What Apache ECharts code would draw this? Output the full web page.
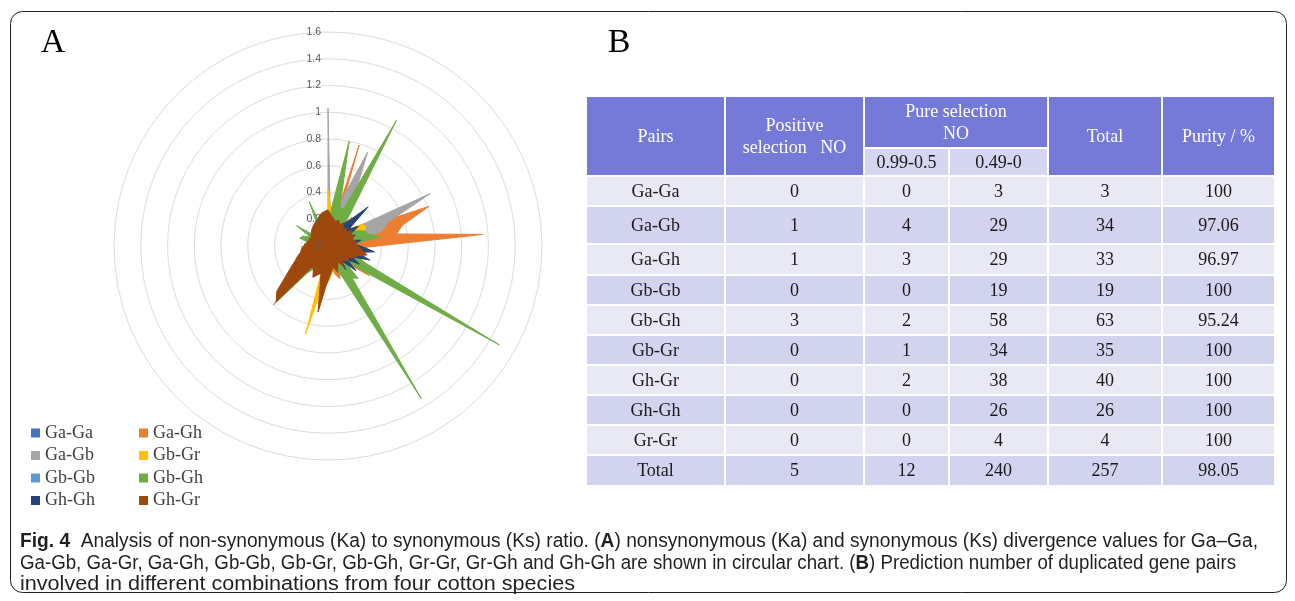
<!DOCTYPE html>
<html>
<head>
<meta charset="utf-8">
<script src="https://cdn.jsdelivr.net/npm/echarts@6/dist/echarts.min.js"></script>
<style>
  html, body { margin: 0; padding: 0; background: #ffffff; }
  #chart { width: 1295px; height: 601px; }
</style>
</head>
<body>
<div id="chart"></div>
<script>
// ---- Ka/Ks values per duplicated gene pair group (radar categories run clockwise from the top) ----
const GA_GA = [0.12, 0.08, 0.1];
const GA_GH = [0.1, 0.15, 0.12, 0.79, 0.15, 0.12, 0.2, 0.28, 0.12, 0.18, 0.2, 0.3, 0.81, 0.58, 0.52, 1.16, 0.3,
  0.22, 0.28, 0.24, 0.3, 0.22, 0.38, 0.2, 0.15, 0.18, 0.15, 0.2, 0.26, 0.22, 0.15, 0.12, 0.1];
const GA_GB = [1.03, 0.18, 0.1, 0.38, 0.76, 0.4, 0.12, 0.1, 0.15, 0.12, 0.28, 0.86, 0.48, 0.42, 0.22, 0.12, 0.1,
  0.15, 0.12, 0.1, 0.14, 0.1, 0.12, 0.15, 0.1, 0.12, 0.1, 0.14, 0.12, 0.1, 0.15, 0.25, 0.12, 0.1];
const GB_GR = [0.42, 0.25, 0.15, 0.12, 0.2, 0.15, 0.12, 0.1, 0.15, 0.2, 0.3, 0.32, 0.28, 0.18, 0.12, 0.1, 0.12,
  0.15, 0.1, 0.12, 0.1, 0.15, 0.12, 0.1, 0.14, 0.12, 0.1, 0.15, 0.18, 0.15, 0.2, 0.25, 0.28, 0.32, 0.68];
const GB_GB = [0.1, 0.15, 0.22, 0.3, 0.15, 0.12, 0.1, 0.15, 0.12, 0.2, 0.27, 0.15, 0.12, 0.1, 0.12, 0.1, 0.15, 0.12, 0.1];
const GB_GH = [0.15, 0.3, 0.80, 0.3, 0.3, 1.07, 0.3, 0.15, 0.18, 0.15, 0.2, 0.25, 0.3, 0.32, 0.4, 0.18, 0.15,
  0.2, 0.15, 0.22, 0.3, 1.48, 0.3, 0.15, 0.33, 0.3, 1.34, 0.28, 0.18, 0.12, 0.15, 0.2, 0.15, 0.12, 0.15, 0.2,
  0.15, 0.2, 0.25, 0.6, 0.3, 0.2, 0.15, 0.12, 0.14, 0.12, 0.15, 0.12, 0.18, 0.15, 0.22, 0.2, 0.15, 0.28, 0.12,
  0.1, 0.15, 0.12, 0.15, 0.36, 0.12, 0.1, 0.12];
const GH_GH = [0.1, 0.22, 0.15, 0.12, 0.18, 0.15, 0.2, 0.25, 0.42, 0.2, 0.27, 0.18, 0.22, 0.15, 0.25, 0.2, 0.26,
  0.35, 0.22, 0.33, 0.2, 0.27, 0.18, 0.28, 0.15, 0.22];
const GH_GR = [0.27, 0.23, 0.21, 0.19, 0.21, 0.18, 0.21, 0.17, 0.19, 0.17, 0.21, 0.18, 0.21, 0.19, 0.21, 0.21, 0.23,
  0.26, 0.3, 0.23, 0.21, 0.17, 0.19, 0.16, 0.15, 0.19, 0.14, 0.17, 0.21, 0.16, 0.19, 0.23, 0.3, 0.5, 0.21, 0.23,
  0.26, 0.21, 0.19, 0.57, 0.51, 0.39, 0.32, 0.27, 0.24, 0.21, 0.2, 0.19, 0.17, 0.16, 0.15, 0.15, 0.14, 0.15,
  0.16, 0.17, 0.18, 0.19, 0.2, 0.21, 0.23, 0.25, 0.26];

const PAIR_NAMES = ['Ga-Ga', 'Ga-Gh', 'Ga-Gb', 'Gb-Gr', 'Gb-Gb', 'Gb-Gh', 'Gh-Gh', 'Gh-Gr'];
const PAIR_VALUES = [GA_GA, GA_GH, GA_GB, GB_GR, GB_GB, GB_GH, GH_GH, GH_GR];
const PAIR_COLORS = ['#4472C4', '#ED7D31', '#A5A5A5', '#FFC000', '#5B9BD5', '#70AD47', '#264478', '#9E480E'];
const LEGEND_COL1 = ['Ga-Ga', 'Ga-Gb', 'Gb-Gb', 'Gh-Gh'];
const LEGEND_COL2 = ['Ga-Gh', 'Gb-Gr', 'Gb-Gh', 'Gh-Gr'];
const RING_MAX = 1.6;
const RING_STEP = 0.2;

// ---- Table B ----
const TABLE_PAIRS = ['Ga-Ga', 'Ga-Gb', 'Ga-Gh', 'Gb-Gb', 'Gb-Gh', 'Gb-Gr', 'Gh-Gr', 'Gh-Gh', 'Gr-Gr', 'Total'];
const POSITIVE_NO = ['0', '1', '1', '0', '3', '0', '0', '0', '0', '5'];
const PURE_HIGH = ['0', '4', '3', '0', '2', '1', '2', '0', '0', '12'];
const PURE_LOW = ['3', '29', '29', '19', '58', '34', '38', '26', '4', '240'];
const TOTALS = ['3', '34', '33', '19', '63', '35', '40', '26', '4', '257'];
const PURITY = ['100', '97.06', '96.97', '100', '95.24', '100', '100', '100', '100', '98.05'];
const HEADERS = ['Pairs', 'Positive\nselection   NO', 'Pure selection\nNO', 'Total', 'Purity / %'];
const SUB_HEADERS = ['0.99-0.5', '0.49-0'];

const CAPTION_1 = ['Fig. 4', '  Analysis of non-synonymous (Ka) to synonymous (Ks) ratio. (', 'A',
  ') nonsynonymous (Ka) and synonymous (Ks) divergence values for Ga\u2013Ga,'];
const CAPTION_2 = ['', 'Ga-Gb, Ga-Gr, Ga-Gh, Gb-Gb, Gb-Gr, Gb-Gh, Gr-Gr, Gr-Gh and Gh-Gh are shown in circular chart. (', 'B',
  ') Prediction number of duplicated gene pairs'];
const CAPTION_3 = ['', 'involved in different combinations from four cotton species', '', ''];

// ---- layout ----
const CENTER = [328, 246];
const RADIUS = 214;
const SERIF = '"Liberation Serif", "Times New Roman", serif';
const SANS = '"Liberation Sans", Arial, sans-serif';

const N = Math.max.apply(null, PAIR_VALUES.map(v => v.length));

// ECharts radar steps counter-clockwise; reorder so categories read clockwise
function radarOrder(vals) {
  const full = [];
  for (let i = 0; i < N; i++) full.push(i < vals.length ? vals[i] : 0);
  return full.map((_, i) => full[(N - i) % N]);
}

const indicators = [];
for (let i = 0; i < N; i++) indicators.push({ name: '', min: 0, max: RING_MAX });

const radarSeries = PAIR_NAMES.map((name, k) => ({
  type: 'radar',
  name: name,
  radarIndex: 0,
  symbol: 'none',
  silent: true,
  color: PAIR_COLORS[k],
  itemStyle: { color: PAIR_COLORS[k] },
  lineStyle: { width: 1, color: PAIR_COLORS[k], opacity: 1, join: 'miter' },
  areaStyle: { color: PAIR_COLORS[k], opacity: 1 },
  data: [{ name: name, value: radarOrder(PAIR_VALUES[k]) }]
}));

// ---- table graphics ----
const COL_X = [586, 725, 864, 949, 1048, 1162, 1275];
const HEAD_TOP = 96, HEAD_SPLIT = 148, HEAD_BOTTOM = 176;
const ROW_Y = [176, 206, 244, 275, 305, 335, 365, 395, 425, 455, 486];
const HEAD_COLOR = '#7579D7';
const SUB_COLOR = '#D5D6F1';
const ROW_LIGHT = '#E9E9F6';
const ROW_DARK = '#D2D3EF';
const GAP = 1;

const graphics = [];
function cell(x0, y0, x1, y1, fill, text, color) {
  graphics.push({
    type: 'rect', silent: true,
    shape: { x: x0 + GAP, y: y0 + GAP, width: x1 - x0 - 2 * GAP, height: y1 - y0 - 2 * GAP },
    style: { fill: fill }
  });
  if (text) {
    graphics.push({
      type: 'text', silent: true, x: (x0 + x1) / 2, y: (y0 + y1) / 2 + 1,
      style: { text: text, fill: color, fontSize: 18, fontFamily: SERIF, align: 'center',
        verticalAlign: 'middle', lineHeight: 22 }
    });
  }
}
// header
cell(COL_X[0], HEAD_TOP, COL_X[1], HEAD_BOTTOM, HEAD_COLOR, HEADERS[0], '#ffffff');
cell(COL_X[1], HEAD_TOP, COL_X[2], HEAD_BOTTOM, HEAD_COLOR, HEADERS[1], '#ffffff');
cell(COL_X[2], HEAD_TOP, COL_X[4], HEAD_SPLIT, HEAD_COLOR, HEADERS[2], '#ffffff');
cell(COL_X[4], HEAD_TOP, COL_X[5], HEAD_BOTTOM, HEAD_COLOR, HEADERS[3], '#ffffff');
cell(COL_X[5], HEAD_TOP, COL_X[6], HEAD_BOTTOM, HEAD_COLOR, HEADERS[4], '#ffffff');
cell(COL_X[2], HEAD_SPLIT, COL_X[3], HEAD_BOTTOM, SUB_COLOR, SUB_HEADERS[0], '#1a1a1a');
cell(COL_X[3], HEAD_SPLIT, COL_X[4], HEAD_BOTTOM, SUB_COLOR, SUB_HEADERS[1], '#1a1a1a');
// body
const COLUMNS = [TABLE_PAIRS, POSITIVE_NO, PURE_HIGH, PURE_LOW, TOTALS, PURITY];
for (let r = 0; r < TABLE_PAIRS.length; r++) {
  const fill = r % 2 === 0 ? ROW_LIGHT : ROW_DARK;
  for (let c = 0; c < COLUMNS.length; c++) {
    cell(COL_X[c], ROW_Y[r], COL_X[c + 1], ROW_Y[r + 1], fill, COLUMNS[c][r], '#1a1a1a');
  }
}

// panel letters
graphics.push({ type: 'text', silent: true, x: 53, y: 43,
  style: { text: 'A', fontSize: 34, fontFamily: SERIF, fill: '#000', align: 'center', verticalAlign: 'middle' } });
graphics.push({ type: 'text', silent: true, x: 619, y: 43,
  style: { text: 'B', fontSize: 34, fontFamily: SERIF, fill: '#000', align: 'center', verticalAlign: 'middle' } });

// caption: condensed sans rendered by horizontal scaling
const CAP_SIZE = 20;
const ctx = document.createElement('canvas').getContext('2d');
function textW(bold, s) {
  ctx.font = (bold ? 'bold ' : '') + CAP_SIZE + 'px ' + SANS;
  return ctx.measureText(s).width;
}
function capWidth(parts) {
  return textW(true, parts[0]) + textW(false, parts[1]) + textW(true, parts[2]) + textW(false, parts[3]);
}
const CAP_LEFT = 20;
const scale1 = (1258 - CAP_LEFT) / capWidth(CAPTION_1);
const scale2 = (1236 - CAP_LEFT) / capWidth(CAPTION_2);
const scale3 = (575 - CAP_LEFT) / capWidth(CAPTION_3);
function capRich(parts) {
  let s = '';
  if (parts[0]) s += '{b|' + parts[0] + '}';
  if (parts[1]) s += '{r|' + parts[1] + '}';
  if (parts[2]) s += '{b|' + parts[2] + '}';
  if (parts[3]) s += '{r|' + parts[3] + '}';
  return s;
}
[[CAPTION_1, 541, scale1], [CAPTION_2, 563, scale2], [CAPTION_3, 584, scale3]].forEach(([parts, y, sx]) => {
  graphics.push({
    type: 'text', silent: true, x: CAP_LEFT, y: y, scaleX: sx,
    style: {
      text: capRich(parts), fontSize: CAP_SIZE, fontFamily: SANS, fill: '#231f20',
      align: 'left', verticalAlign: 'middle',
      rich: {
        b: { fontWeight: 'bold', fontSize: CAP_SIZE, fontFamily: SANS, fill: '#231f20' },
        r: { fontSize: CAP_SIZE, fontFamily: SANS, fill: '#231f20' }
      }
    }
  });
});

// frame
graphics.push({ type: 'rect', silent: true, z: -1,
  shape: { x: 10.5, y: 11.5, width: 1276, height: 581, r: 12 },
  style: { fill: 'none', stroke: '#231f20', lineWidth: 1 } });

const legendBase = {
  orient: 'vertical', selectedMode: false, padding: 0, itemGap: 4.5,
  itemWidth: 9, itemHeight: 9, icon: 'rect',
  textStyle: { fontFamily: SERIF, fontSize: 18, color: '#404040', padding: [0, 0, 0, 0] }
};

const option = {
  animation: false,
  backgroundColor: '#ffffff',
  polar: [
    { center: CENTER, radius: [0, RADIUS] },
    { center: CENTER, radius: [0, RADIUS] }
  ],
  angleAxis: [
    { polarIndex: 0, type: 'value', min: 0, max: 360, show: false },
    { polarIndex: 1, type: 'value', min: 0, max: 360, show: false }
  ],
  radiusAxis: [
    { polarIndex: 0, min: 0, max: RING_MAX, interval: RING_STEP, z: 0,
      axisLine: { show: false }, axisTick: { show: false }, axisLabel: { show: false },
      splitLine: { show: true, lineStyle: { color: '#dcdcdc', width: 1 } } },
    { polarIndex: 1, min: 0, max: RING_MAX, interval: RING_STEP, z: 20,
      axisLine: { show: false }, axisTick: { show: false }, splitLine: { show: false },
      axisLabel: { show: true, color: '#595959', fontSize: 10.5, fontFamily: SANS, margin: 7 } }
  ],
  radar: {
    center: CENTER, radius: RADIUS, startAngle: 90, shape: 'circle', splitNumber: 8,
    indicator: indicators, silent: true,
    axisName: { show: false }, axisLine: { show: false }, axisTick: { show: false },
    axisLabel: { show: false }, splitLine: { show: false }, splitArea: { show: false }
  },
  legend: [
    Object.assign({}, legendBase, { left: 31, top: 424, data: LEGEND_COL1 }),
    Object.assign({}, legendBase, { left: 139, top: 424, data: LEGEND_COL2 })
  ],
  graphic: graphics,
  series: radarSeries
};

const chart = echarts.init(document.getElementById('chart'), null, { renderer: 'canvas' });
chart.setOption(option);
</script>
</body>
</html>
